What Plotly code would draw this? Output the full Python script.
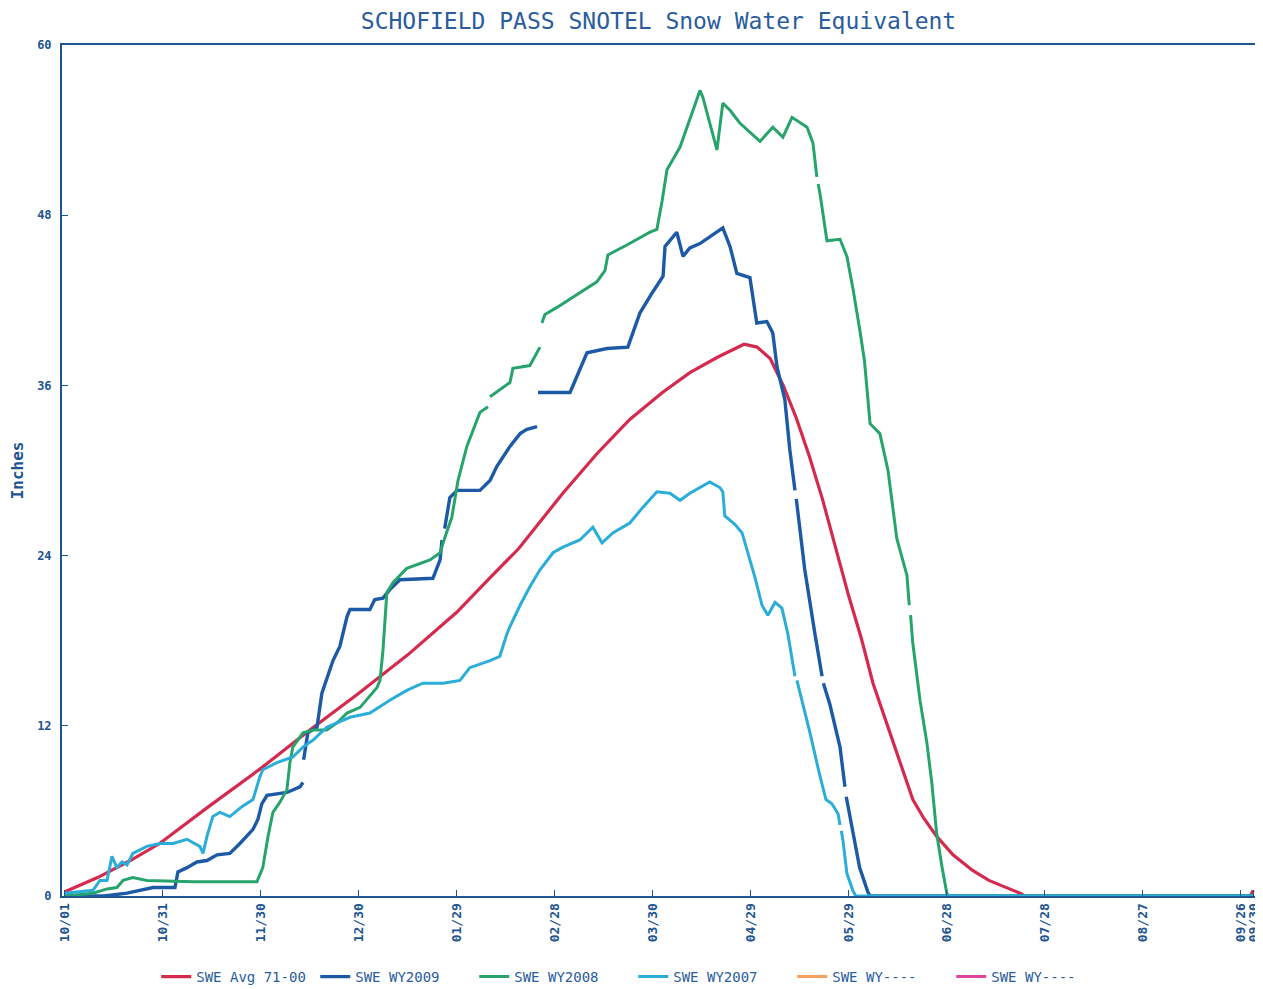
import plotly.graph_objects as go

# x = days since Oct 1 (water year), y = snow water equivalent (inches)
tick_days = [0, 30, 60, 90, 120, 150, 180, 210, 240, 270, 300, 330, 360, 364]
tick_labels = ["10/01", "10/31", "11/30", "12/30", "01/29", "02/28", "03/30",
               "04/29", "05/29", "06/28", "07/28", "08/27", "09/26", "09/30"]

avg_7100 = [[0, 0.3], [10, 1.3], [20, 2.5], [29, 3.7], [44, 6.3], [60, 9.0], [75, 11.7],
            [90, 14.3], [105, 17.0], [120, 20.0], [130, 22.4], [139, 24.5], [152.5, 28.4],
            [163, 31.2], [173, 33.6], [183, 35.5], [191.4, 36.9], [200, 38.0], [208, 38.9],
            [212, 38.7], [216, 37.9], [220, 36.0], [224, 33.7], [228, 31.0], [232, 28.0],
            [236, 24.6], [240, 21.2], [244, 18.1], [247.5, 15.0], [252.7, 11.5], [256, 9.3],
            [259.7, 6.8], [263, 5.5], [267, 4.2], [272, 2.9], [278, 1.8], [283, 1.1],
            [288.5, 0.6], [292.5, 0.2], [294, 0], [363, 0], [364, 0.4]]

wy2009 = [[0, 0], [12, 0], [19, 0.2], [27, 0.6], [33.7, 0.6], [34.6, 1.7], [37.4, 2.0],
          [40.4, 2.4], [43.5, 2.5], [46.6, 2.9], [50.5, 3.0], [53.6, 3.7], [57.6, 4.7],
          [59.1, 5.4], [60.3, 6.5], [61.9, 7.1], [68, 7.3], [72, 7.7], [72.9, 8.0], [73.0, None],
          [73.1, 9.6], [74.4, 11.5], [77.2, 11.9], [78.7, 14.3], [82.1, 16.6], [84.2, 17.6],
          [86.4, 19.7], [87.3, 20.2], [93.4, 20.2], [94.9, 20.9], [97.4, 21.0], [99.5, 21.6],
          [102.6, 22.3], [112.7, 22.4], [114.9, 23.7], [115.5, 25.1], [115.9, None],
          [116.3, 25.9], [117.9, 28.1], [120.1, 28.6], [127.1, 28.6], [130.2, 29.3],
          [132.3, 30.3], [136.3, 31.7], [139.4, 32.6], [141.5, 32.9], [144.6, 33.1],
          [144.7, None], [144.9, 35.5], [154.7, 35.5], [159.9, 38.3], [166, 38.6],
          [172.4, 38.7], [176.1, 41.1], [179.8, 42.5], [183.2, 43.7], [183.8, 45.8],
          [187.4, 46.8], [189.3, 45.1], [191.4, 45.7], [194.5, 46.0], [200.6, 47.0],
          [201.5, 47.1], [203.7, 45.8], [205.8, 43.9], [209.8, 43.6], [211.9, 40.4],
          [215, 40.5], [216.8, 39.7], [218.1, 37.3], [220.5, 35.0], [222, 31.5],
          [223.6, 28.6], [223.8, None], [224.0, 28.0], [226.6, 23.0], [229.7, 18.5],
          [231.9, 15.5], [232.1, None], [232.3, 15.0], [234.3, 13.5], [237.4, 10.5],
          [238.9, 7.7], [239.1, None], [239.3, 7.0], [241.3, 4.4], [243.4, 2.0],
          [245.9, 0.3], [246.6, 0], [364, 0]]

wy2008 = [[0, 0], [8.6, 0.2], [12.9, 0.5], [15.9, 0.6], [17.8, 1.1], [20.8, 1.3], [25.1, 1.1],
          [39.2, 1.0], [58.8, 1.0], [60.6, 2.0], [62.2, 4.2], [63.7, 5.9], [65.8, 6.6],
          [68, 7.5], [68.9, 9.4], [69.8, 10.5], [72.9, 11.5], [76, 11.7], [80.2, 11.7],
          [83.3, 12.2], [86.4, 12.9], [90.4, 13.3], [95.6, 14.7], [96.5, 15.2], [97.4, 17.3],
          [98.6, 21.4], [100.5, 22.1], [104.7, 23.1], [111.8, 23.7], [114.9, 24.2],
          [116.4, 25.3], [118.5, 26.7], [120.4, 29.3], [123.1, 31.7], [127.1, 34.1],
          [129.6, 34.5], [129.9, None], [130.2, 35.2], [136.3, 36.2], [137.2, 37.2],
          [142.4, 37.4], [145.5, 38.7], [145.8, None], [146.1, 40.4], [147, 41.0], [150.7, 41.5],
          [155.6, 42.2], [162.9, 43.3], [165.4, 44.1], [166.3, 45.2], [172.1, 45.9],
          [179.2, 46.8], [181.3, 47.0], [182.9, 49.0], [184.4, 51.2], [188.4, 52.8],
          [194.5, 56.8], [195.4, 56.3], [199.7, 52.6], [201.5, 55.9], [203.7, 55.4],
          [206.7, 54.5], [212.9, 53.2], [216.8, 54.2], [219.9, 53.5], [222.7, 54.9],
          [227.3, 54.2], [229.1, 53.1], [230.3, 50.7], [230.5, None], [230.7, 50.2],
          [231.2, 49.6], [233.4, 46.2], [237.4, 46.3], [239.5, 45.1], [241.3, 42.9],
          [243.4, 40.0], [244.9, 37.7], [246.6, 33.3], [249.6, 32.6], [252.1, 30.0],
          [254.8, 25.2], [257.9, 22.6], [258.6, 20.5], [258.8, None], [259.0, 19.8],
          [259.7, 17.8], [261.9, 13.8], [264, 10.8], [265.5, 8.0], [267, 4.4],
          [268.6, 2.1], [270.1, 0.2], [270.7, 0], [364, 0]]

wy2007 = [[0, 0.2], [8.6, 0.4], [10.7, 1.1], [12.9, 1.1], [14.4, 2.8], [15.9, 2.0], [17.5, 2.4],
          [19, 2.2], [20.8, 3.0], [25.1, 3.5], [29.1, 3.7], [33.1, 3.7], [37.4, 4.0],
          [41.3, 3.5], [42.3, 3.0], [43.5, 4.2], [45.3, 5.6], [47.5, 5.9], [50.5, 5.6],
          [54.2, 6.3], [57.6, 6.8], [59.7, 8.4], [60.6, 8.9], [64.9, 9.4], [69.8, 9.8],
          [72.9, 10.5], [76, 11.0], [80.2, 11.9], [87.3, 12.6], [93.4, 12.9], [99.5, 13.8],
          [104.7, 14.5], [109.6, 15.0], [115.8, 15.0], [121, 15.2], [124, 16.1],
          [130.2, 16.6], [133.2, 16.9], [135.4, 18.5], [136.3, 19.0], [139.4, 20.5],
          [142.4, 21.8], [145.5, 23.0], [149.5, 24.2], [152.5, 24.6], [157.7, 25.1],
          [161.7, 26.0], [164.5, 24.9], [167.8, 25.6], [173, 26.3], [177, 27.4],
          [181.3, 28.5], [185.3, 28.4], [188.4, 27.9], [191.4, 28.4], [194.5, 28.8],
          [197.5, 29.2], [200.6, 28.8], [201.5, 28.5], [202.1, 26.8], [205.2, 26.2],
          [207.4, 25.6], [209.2, 24.2], [211.3, 22.5], [213.5, 20.5], [215.3, 19.8],
          [217.5, 20.7], [219.6, 20.3], [221.4, 18.5], [223.6, 15.5], [223.9, None],
          [224.2, 15.2], [228.2, 11.5], [231.2, 8.5], [233.1, 6.8], [234.9, 6.5],
          [236.8, 5.8], [237.4, 5.0], [237.6, None], [237.8, 4.6], [238.3, 3.9],
          [239.5, 1.6], [241.3, 0.4], [242.2, 0], [364, 0]]

series = [
    ("SWE Avg 71-00", avg_7100, "#d42a4e", 3.2),
    ("SWE WY2009", wy2009, "#1d5aa6", 3.4),
    ("SWE WY2008", wy2008, "#27a36c", 3.0),
    ("SWE WY2007", wy2007, "#2badd9", 3.0),
    ("SWE WY----", [], "#f6a25e", 3.0),
    ("SWE WY----", [], "#e0469e", 3.0),
]

AXIS = "#1d5590"
MONO = "DejaVu Sans Mono"

# the page body has an 8px margin, so the figure is sized to fit the 1263x989 window
W, H = 1255, 981

fig = go.Figure()
for name, pts, color, w in series:
    xs = [p[0] for p in pts] if pts else [None]
    ys = [p[1] for p in pts] if pts else [None]
    fig.add_trace(go.Scatter(x=xs, y=ys, mode="lines", name=name,
                             line=dict(color=color, width=w), connectgaps=False))

fig.update_layout(
    width=W, height=H,
    margin=dict(l=54, r=8, t=37, b=93, autoexpand=False),
    paper_bgcolor="white", plot_bgcolor="white",
    title=dict(text="SCHOFIELD PASS SNOTEL Snow Water Equivalent",
               x=0.5, xref="paper", xanchor="center",
               y=1 - 13 / H, yanchor="middle",
               font=dict(family=MONO, size=23, color="#2a5c9e")),
    showlegend=True,
    legend=dict(orientation="h", x=0.079, xanchor="left",
                yref="container", y=12 / H, yanchor="middle",
                entrywidth=114, entrywidthmode="pixels", itemwidth=30,
                font=dict(family=MONO, size=14, color="#2a5c9e"),
                bgcolor="rgba(0,0,0,0)"),
    annotations=[dict(text="<b>Inches</b>", xref="paper", yref="paper",
                      x=-0.037, y=0.5, xanchor="center", yanchor="middle",
                      textangle=-90, showarrow=False,
                      font=dict(family=MONO, size=16, color=AXIS))],
)
fig.update_xaxes(range=[-0.9, 364.5], tickvals=tick_days, ticktext=tick_labels,
                 tickangle=-90, ticks="inside", ticklen=6, tickcolor=AXIS,
                 showline=True, linecolor=AXIS, linewidth=2, mirror=True,
                 showgrid=False, zeroline=False, automargin=False,
                 ticklabeloverflow="allow",
                 tickfont=dict(family=MONO, size=13, color=AXIS, weight="bold"))
fig.update_yaxes(range=[0, 60], tickvals=[0, 12, 24, 36, 48, 60],
                 ticks="inside", ticklen=6, tickcolor=AXIS,
                 showline=True, linecolor=AXIS, linewidth=2, mirror=True,
                 showgrid=False, zeroline=False, automargin=False,
                 ticklabelstandoff=6,
                 tickfont=dict(family=MONO, size=12, color=AXIS, weight="bold"))

fig.write_html("out.html")
